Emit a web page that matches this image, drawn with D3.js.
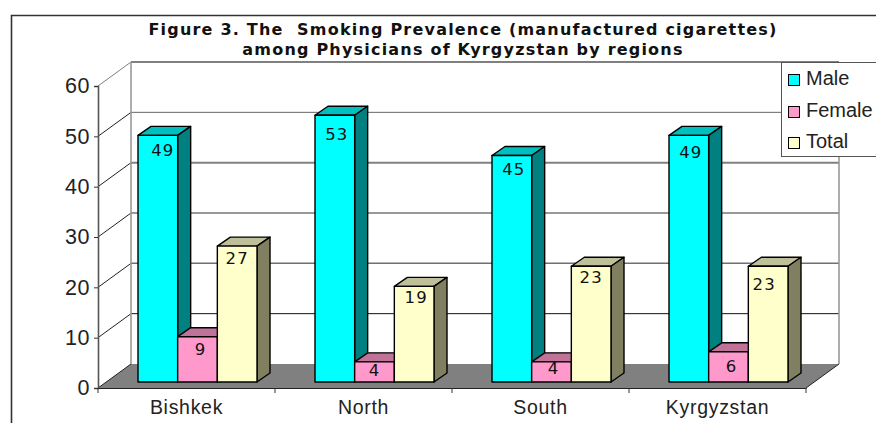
<!DOCTYPE html>
<html>
<head>
<meta charset="utf-8">
<script src="https://cdn.jsdelivr.net/npm/d3@7/dist/d3.min.js"></script>
<style>
html,body{margin:0;padding:0;background:#fff}
svg{display:block}
</style>
</head>
<body>
<svg id="chart" width="876" height="423"></svg>
<script>
const categories = ["Bishkek", "North", "South", "Kyrgyzstan"];
const seriesNames = ["Male", "Female", "Total"];
const male = [49, 53, 45, 49];
const female = [9, 4, 4, 6];
const total = [27, 19, 23, 23];
const seriesValues = [male, female, total];
const yTicks = [0, 10, 20, 30, 40, 50, 60];
const titleLines = [
  "Figure 3. The  Smoking Prevalence (manufactured cigarettes)",
  "among Physicians of Kyrgyzstan by regions"
];
const frontColors = ["#00ffff", "#ff99cc", "#ffffcc"];
const topColors = ["#00bfbf", "#bf7399", "#bfbf99"];
const sideColors = ["#008080", "#993366", "#808060"];
const gridColors = {60:"#808080",50:"#666666",40:"#808080",30:"#333333",20:"#707070",10:"#111111"};
const gridWidths = {60:2,50:1,40:2,30:1,20:1.5,10:1};
// Per-label placement inside each bar: [x shift from bar centre, baseline below bar top]
const maleLabelShift = [[5, 21], [2, 25], [2, 19], [2, 23]];
const femaleLabelShift = [[3, 18], [0, 14], [2, 12], [3, 20]];
const totalLabelShift = [[0, 18], [2, 17], [0, 17], [-4, 24]];
const labelShifts = [maleLabelShift, femaleLabelShift, totalLabelShift];

const svg = d3.select("#chart");
const AXIS_FONT = "'Liberation Sans', Arial, sans-serif";
const LABEL_FONT = "'DejaVu Sans', Verdana, sans-serif";

// Plot geometry: front plane of the box plus the depth vector to the back wall
const plot = {left: 98, right: 806, top: 86, bottom: 388, dx: 33, dy: -24};
const barDepth = {dx: 13, dy: -9};
const floorInset = {dy: -6};

const y = d3.scaleLinear().domain([0, 60]).range([plot.bottom, plot.top]);
const x = d3.scaleBand().domain(categories).range([plot.left, plot.right]);
const inner = d3.scaleBand().domain(seriesNames).range([40, 159]);

// Outer frame
svg.append("path")
  .attr("d", "M11.5,423V15.5H876")
  .attr("fill", "none").attr("stroke", "#333").attr("stroke-width", 1.6);

// Title
svg.append("g").selectAll("text").data(titleLines).join("text")
  .attr("x", 463).attr("y", (d, i) => 35 + i * 20)
  .attr("text-anchor", "middle")
  .attr("font-family", LABEL_FONT).attr("font-weight", "bold")
  .attr("font-size", 16).attr("letter-spacing", 1.2).attr("fill", "#111")
  .style("white-space", "pre")
  .text(d => d);

// Floor
const p = plot;
svg.append("path")
  .attr("d", `M${p.left},${p.bottom}L${p.right},${p.bottom}L${p.right + p.dx},${p.bottom + p.dy}L${p.left + p.dx},${p.bottom + p.dy}Z`)
  .attr("fill", "#808080");

// Walls and gridlines
const gridG = svg.append("g").attr("fill", "none");
gridG.selectAll(".back").data(yTicks.filter(t => t > 0)).join("line")
  .attr("class", "back")
  .attr("x1", p.left + p.dx).attr("x2", p.right + p.dx)
  .attr("y1", d => y(d) + p.dy).attr("y2", d => y(d) + p.dy)
  .attr("stroke", d => gridColors[d]).attr("stroke-width", d => gridWidths[d]);
gridG.selectAll(".side").data(yTicks).join("line")
  .attr("class", "side")
  .attr("x1", p.left).attr("x2", p.left + p.dx)
  .attr("y1", d => y(d)).attr("y2", d => y(d) + p.dy)
  .attr("stroke", d => d === 60 ? "#808080" : "#222").attr("stroke-width", 1);
gridG.append("line")
  .attr("x1", p.left + p.dx).attr("x2", p.left + p.dx)
  .attr("y1", y(60) + p.dy).attr("y2", y(0) + p.dy)
  .attr("stroke", "#999").attr("stroke-width", 1.6);
gridG.append("line")
  .attr("x1", p.right + p.dx).attr("x2", p.right + p.dx)
  .attr("y1", y(60) + p.dy).attr("y2", y(0) + p.dy)
  .attr("stroke", "#999").attr("stroke-width", 1.6);
gridG.append("line")
  .attr("x1", p.right).attr("x2", p.right + p.dx)
  .attr("y1", y(0)).attr("y2", y(0) + p.dy)
  .attr("stroke", "#222").attr("stroke-width", 1);

// Bars, drawn as top face, side face and front face
const baseY = plot.bottom + floorInset.dy;
const valueShift = plot.bottom - baseY;
const barTop = v => y(v) - valueShift;
categories.forEach((cat, ci) => {
  const group = svg.append("g");
  seriesNames.forEach((name, si) => {
    const v = seriesValues[si][ci];
    const x0 = x(cat) + inner(name);
    const w = inner.bandwidth();
    const yTop = barTop(v);
    const d = barDepth;
    const faces = [
      {path: `M${x0},${yTop}L${x0 + d.dx},${yTop + d.dy}L${x0 + w + d.dx},${yTop + d.dy}L${x0 + w},${yTop}Z`, fill: topColors[si]},
      {path: `M${x0 + w},${yTop}L${x0 + w + d.dx},${yTop + d.dy}L${x0 + w + d.dx},${baseY + d.dy}L${x0 + w},${baseY}Z`, fill: sideColors[si]},
      {path: `M${x0},${yTop}H${x0 + w}V${baseY}H${x0}Z`, fill: frontColors[si]}
    ];
    group.selectAll(null).data(faces).join("path")
      .attr("d", f => f.path).attr("fill", f => f.fill)
      .attr("stroke", "#000").attr("stroke-width", 1.4)
      .attr("stroke-linejoin", "round");
  });
});

// Value labels sit on top of all the bars
categories.forEach((cat, ci) => {
  seriesNames.forEach((name, si) => {
    const v = seriesValues[si][ci];
    const [sx, sy] = labelShifts[si][ci];
    svg.append("text")
      .attr("x", x(cat) + inner(name) + inner.bandwidth() / 2 + sx)
      .attr("y", barTop(v) + sy)
      .attr("text-anchor", "middle")
      .attr("font-family", LABEL_FONT).attr("font-size", 16.5)
      .attr("letter-spacing", 1.2)
      .attr("fill", "#111")
      .text(v);
  });
});

// Axes
const yAxis = d3.axisLeft(y).tickValues(yTicks).tickSize(4).tickPadding(4);
const gy = svg.append("g").attr("transform", `translate(${p.left},0)`).call(yAxis);
gy.selectAll("text").attr("font-family", AXIS_FONT).attr("font-size", 21.5).attr("letter-spacing", 0.6).attr("fill", "#222");
gy.selectAll("line").attr("stroke", "#333");
gy.select(".domain").attr("stroke", "#555").attr("stroke-width", 1.6);

const xAxis = d3.axisBottom(x).tickSize(0).tickPadding(12);
const gx = svg.append("g").attr("transform", `translate(0,${p.bottom})`).call(xAxis);
gx.selectAll("text").attr("font-family", AXIS_FONT).attr("font-size", 19.5).attr("letter-spacing", 0.7).attr("fill", "#222");
gx.select(".domain").attr("stroke", "#222").attr("stroke-width", 1.2);
gx.append("g").selectAll("line").data(categories.map(c => x(c)).concat([p.right])).join("line")
  .attr("x1", d => d).attr("x2", d => d).attr("y1", 0).attr("y2", 5)
  .attr("stroke", "#333");

// Legend, running off the right edge of the frame
const legend = svg.append("g");
legend.append("rect")
  .attr("x", 781.5).attr("y", 62.5).attr("width", 110).attr("height", 94)
  .attr("fill", "#fff").attr("stroke", "#555").attr("stroke-width", 1);
seriesNames.forEach((name, i) => {
  const ly = 80 + i * 31.5;
  legend.append("rect")
    .attr("x", 788.5).attr("y", Math.round(ly) - 5.5).attr("width", 11).attr("height", 11)
    .attr("fill", frontColors[i]).attr("stroke", "#000").attr("stroke-width", 1);
  legend.append("text")
    .attr("x", 806).attr("y", ly + 5)
    .attr("font-family", AXIS_FONT).attr("font-size", 20).attr("fill", "#222")
    .text(name);
});
</script>
</body>
</html>
